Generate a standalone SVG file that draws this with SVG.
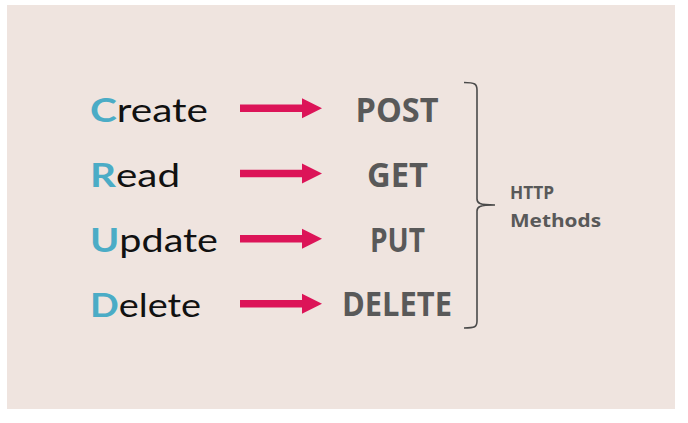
<svg xmlns="http://www.w3.org/2000/svg" width="688" height="423" viewBox="0 0 688 423">
<style>
.crud{font-family:Lato,"Liberation Sans",sans-serif;font-size:33px;font-weight:400;fill:#111;}
.cap{fill:#4BACC6;font-weight:700;}
.method{font-family:"Open Sans","Liberation Sans",sans-serif;font-size:34px;font-weight:700;fill:#595959;text-anchor:middle;}
.lbl{font-family:"Open Sans","Liberation Sans",sans-serif;font-size:18px;font-weight:700;fill:#595959;}
.arrow{stroke:#DC1458;stroke-width:7.5;fill:none;marker-end:url(#head);}
.brace{stroke:#4a4a4a;stroke-width:1.6;fill:none;}
</style>
<defs>
<marker id="head" markerUnits="userSpaceOnUse" markerWidth="20" markerHeight="20" refX="0" refY="10" orient="auto" overflow="visible">
<path d="M0,0 L20,10 L0,20 Z" fill="#DC1458"/>
</marker>
</defs>
<rect x="7" y="5" width="668" height="404" fill="#EFE4DF"/>
<g id="create"><text class="crud" x="90" y="121.5" textLength="118" lengthAdjust="spacingAndGlyphs"><tspan class="cap">C</tspan>reate</text></g>
<g id="read"><text class="crud" x="90" y="186.5" textLength="90" lengthAdjust="spacingAndGlyphs"><tspan class="cap">R</tspan>ead</text></g>
<g id="update"><text class="crud" x="90" y="251.8" textLength="128" lengthAdjust="spacingAndGlyphs"><tspan class="cap">U</tspan>pdate</text></g>
<g id="delete"><text class="crud" x="90" y="316.5" textLength="111" lengthAdjust="spacingAndGlyphs"><tspan class="cap">D</tspan>elete</text></g>
<g id="post"><text class="method" x="397" y="121.5" textLength="83" lengthAdjust="spacingAndGlyphs">POST</text></g>
<g id="get"><text class="method" x="397.5" y="186.5" textLength="61" lengthAdjust="spacingAndGlyphs">GET</text></g>
<g id="put"><text class="method" x="397.5" y="251.5" textLength="55" lengthAdjust="spacingAndGlyphs">PUT</text></g>
<g id="delete-method"><text class="method" x="397" y="316" textLength="110" lengthAdjust="spacingAndGlyphs">DELETE</text></g>
<g id="http-methods">
<path class="brace" d="M464,82.5 C475,82.5 477,84 477,90 L477,199 C477,203 479,205 495,205 C479,205 477,207 477,211 L477,321 C477,327 475,328 464,328"/>
<text class="lbl" x="510" y="199" textLength="44" lengthAdjust="spacingAndGlyphs">HTTP</text>
<text class="lbl" x="510" y="226.5" textLength="91" lengthAdjust="spacingAndGlyphs">Methods</text>
</g>
<g id="connectors">
<line class="arrow" x1="240" y1="108.3" x2="302" y2="108.3"/>
<line class="arrow" x1="240" y1="173.5" x2="302" y2="173.5"/>
<line class="arrow" x1="240" y1="238.8" x2="302" y2="238.8"/>
<line class="arrow" x1="240" y1="303.8" x2="302" y2="303.8"/>
</g>
</svg>
